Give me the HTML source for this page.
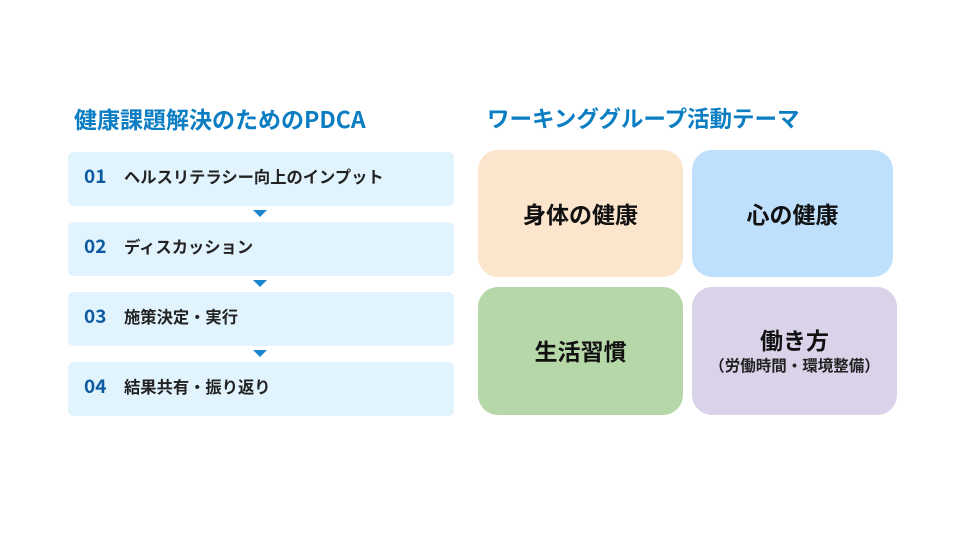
<!DOCTYPE html>
<html>
<head>
<meta charset="utf-8">
<style>
  html, body { margin:0; padding:0; }
  body { width:960px; height:540px; background:#ffffff; position:relative; overflow:hidden;
    font-family:"Liberation Sans","Noto Sans CJK JP",sans-serif; }
  .title { position:absolute; font-family:"Noto Sans CJK JP","Liberation Sans",sans-serif; font-weight:700; font-size:22.5px; color:#0b7dc3; line-height:1; white-space:nowrap; }
  .step { position:absolute; left:68px; width:386px; height:54px; background:#e1f3fd; border-radius:6px; }
  .num { position:absolute; left:16px; top:-3px; height:54px; line-height:54px; font-family:"Noto Sans CJK JP","Liberation Sans",sans-serif; font-weight:700; font-size:19px; color:#0d5aa0; }
  .lbl { position:absolute; left:56px; top:-3px; height:54px; line-height:54px; font-family:"Noto Sans CJK JP",sans-serif; font-weight:700; font-size:16.3px; color:#222; white-space:nowrap; }
  .arrow { position:absolute; left:253px; width:0; height:0; border-left:7.5px solid transparent; border-right:7.5px solid transparent; border-top:7px solid #1a86d0; }
  .card { position:absolute; border-radius:20px; display:flex; flex-direction:column; align-items:center; justify-content:center; font-family:"Noto Sans CJK JP",sans-serif; font-weight:700; color:#111; }
  .big { font-size:23px; line-height:1.2; }
  .small { font-size:15.5px; line-height:1.2; color:#222; }
</style>
</head>
<body>
  <div class="title" style="left:74px; top:107px; font-size:23px;">健康課題解決のためのPDCA</div>
  <div class="title" style="left:487px; top:107px;">ワーキンググループ活動テーマ</div>

  <div class="step" style="top:152px;"><span class="num">01</span><span class="lbl">ヘルスリテラシー向上のインプット</span></div>
  <div class="arrow" style="top:210px;"></div>
  <div class="step" style="top:222px;"><span class="num">02</span><span class="lbl">ディスカッション</span></div>
  <div class="arrow" style="top:280px;"></div>
  <div class="step" style="top:292px;"><span class="num">03</span><span class="lbl">施策決定・実行</span></div>
  <div class="arrow" style="top:350px;"></div>
  <div class="step" style="top:362px;"><span class="num">04</span><span class="lbl">結果共有・振り返り</span></div>

  <div class="card" style="left:478px; top:150px; width:205px; height:127px; background:#fce5cd;"><span class="big">身体の健康</span></div>
  <div class="card" style="left:692px; top:150px; width:201px; height:127px; background:#bfe0fd;"><span class="big">心の健康</span></div>
  <div class="card" style="left:478px; top:287px; width:205px; height:128px; background:#b6d7a8;"><span class="big">生活習慣</span></div>
  <div class="card" style="left:692px; top:287px; width:205px; height:128px; background:#d9d2e9;">
    <span class="big" style="margin-top:-2px;">働き方</span>
    <span class="small" style="margin-top:2px;">（労働時間・環境整備）</span>
  </div>
</body>
</html>
